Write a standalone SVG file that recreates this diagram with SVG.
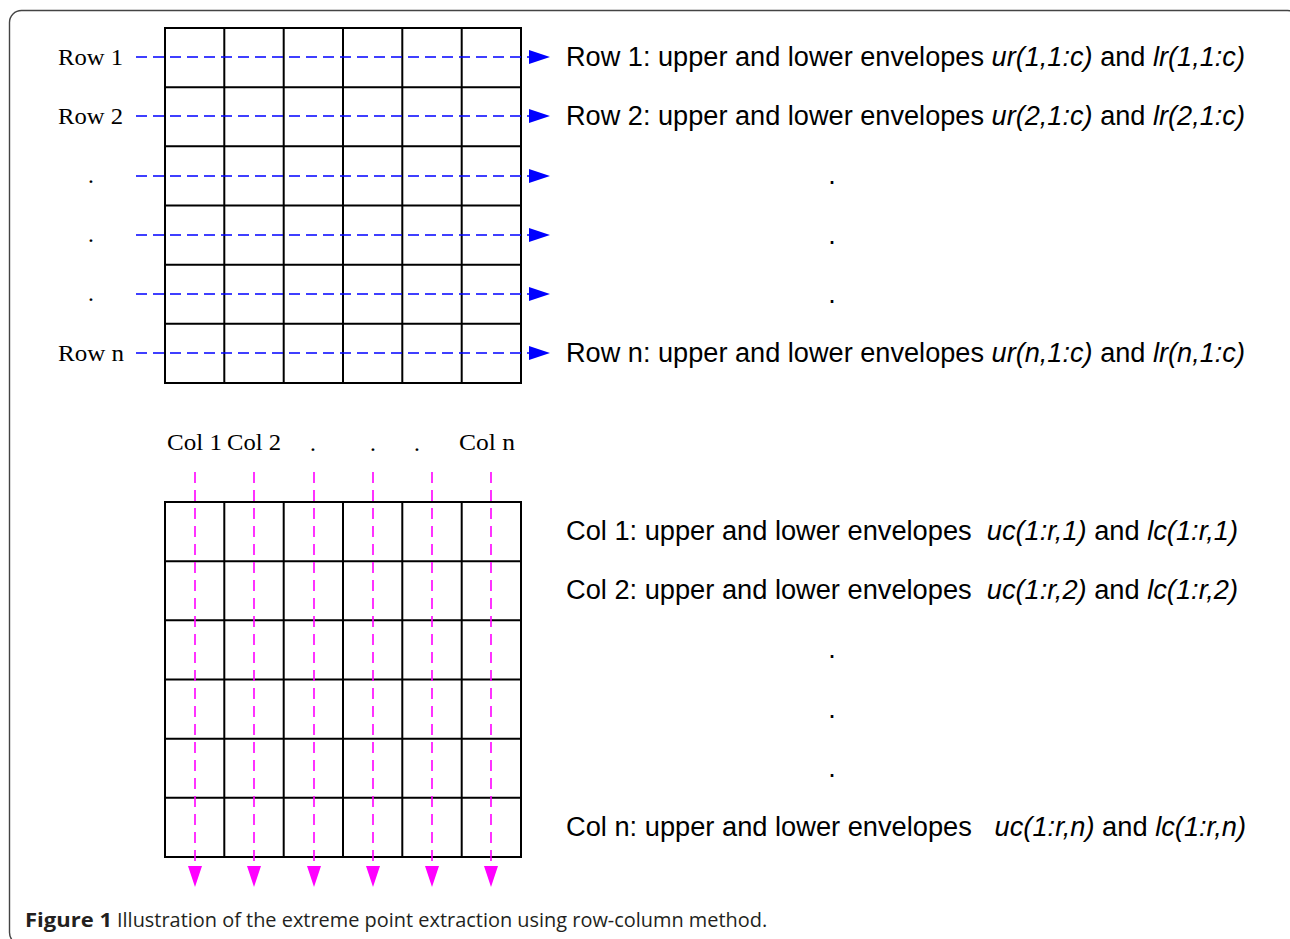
<svg xmlns="http://www.w3.org/2000/svg" width="1290" height="939" viewBox="0 0 1290 939">
<style>
.grid{fill:none;stroke:#000;stroke-width:2}
.tm{font-family:"Liberation Serif","Times New Roman",serif;font-size:23.5px;fill:#000}
.ar{font-family:"Liberation Sans",Arial,sans-serif;font-size:27px;fill:#000}
.it{font-style:italic}
.blue{stroke:#0000ff;stroke-width:1.6;stroke-dasharray:11 6;fill:none}
.mag{stroke:#ff00ff;stroke-width:1.6;stroke-dasharray:11 7;fill:none}
.cap{font-family:"Open Sans","Liberation Sans",sans-serif;font-size:20px;fill:#231f20}
</style>
<defs>
<marker id="ab" viewBox="0 0 21 14" refX="0" refY="7" markerWidth="21" markerHeight="14" markerUnits="userSpaceOnUse" orient="auto"><path d="M0,0 L21,7 L0,14 z" fill="#0000ff"/></marker>
<marker id="am" viewBox="0 0 21 14" refX="0" refY="7" markerWidth="21" markerHeight="14" markerUnits="userSpaceOnUse" orient="auto"><path d="M0,0 L21,7 L0,14 z" fill="#ff00ff"/></marker>
</defs>
<rect x="0" y="0" width="1290" height="939" fill="#fff"/>
<rect id="frame" x="9.5" y="10.5" width="1290" height="934" rx="12" fill="none" stroke="#444" stroke-width="1.4"/>

<g id="grid-rows">
<rect class="grid" x="165" y="28" width="356" height="355"/>
<path class="grid" d="M224.3,28V383M283.7,28V383M343,28V383M402.3,28V383M461.7,28V383M165,87.2H521M165,146.3H521M165,205.5H521M165,264.7H521M165,323.8H521"/>
</g>
<g id="grid-cols">
<rect class="grid" x="165" y="502" width="356" height="355"/>
<path class="grid" d="M224.3,502V857M283.7,502V857M343,502V857M402.3,502V857M461.7,502V857M165,561.2H521M165,620.3H521M165,679.5H521M165,738.7H521M165,797.8H521"/>
</g>

<g id="connectors">
<path class="blue" d="M136,57H529" marker-end="url(#ab)"/>
<path class="blue" d="M136,116H529" marker-end="url(#ab)"/>
<path class="blue" d="M136,176H529" marker-end="url(#ab)"/>
<path class="blue" d="M136,235H529" marker-end="url(#ab)"/>
<path class="blue" d="M136,294H529" marker-end="url(#ab)"/>
<path class="blue" d="M136,353H529" marker-end="url(#ab)"/>
<path class="mag" d="M195,472V866" marker-end="url(#am)"/>
<path class="mag" d="M254,472V866" marker-end="url(#am)"/>
<path class="mag" d="M314,472V866" marker-end="url(#am)"/>
<path class="mag" d="M373,472V866" marker-end="url(#am)"/>
<path class="mag" d="M432,472V866" marker-end="url(#am)"/>
<path class="mag" d="M491,472V866" marker-end="url(#am)"/>
</g>

<g id="row-labels">
<text class="tm" x="58" y="65" textLength="65" lengthAdjust="spacingAndGlyphs">Row 1</text>
<text class="tm" x="58" y="124" textLength="65" lengthAdjust="spacingAndGlyphs">Row 2</text>
<text class="tm" x="91" y="183" text-anchor="middle">.</text>
<text class="tm" x="91" y="242" text-anchor="middle">.</text>
<text class="tm" x="91" y="301" text-anchor="middle">.</text>
<text class="tm" x="58" y="361" textLength="66" lengthAdjust="spacingAndGlyphs">Row n</text>
</g>

<g id="col-labels">
<text class="tm" x="167" y="450" textLength="55" lengthAdjust="spacingAndGlyphs">Col 1</text>
<text class="tm" x="227" y="450" textLength="54" lengthAdjust="spacingAndGlyphs">Col 2</text>
<text class="tm" x="313" y="451" text-anchor="middle">.</text>
<text class="tm" x="373" y="451" text-anchor="middle">.</text>
<text class="tm" x="417" y="451" text-anchor="middle">.</text>
<text class="tm" x="459" y="450" textLength="56" lengthAdjust="spacingAndGlyphs">Col n</text>
</g>

<g id="row-results">
<text class="ar" x="566" y="66" textLength="679" lengthAdjust="spacingAndGlyphs">Row 1: upper and lower envelopes <tspan class="it">ur(1,1:c)</tspan> and <tspan class="it">lr(1,1:c)</tspan></text>
<text class="ar" x="566" y="125" textLength="679" lengthAdjust="spacingAndGlyphs">Row 2: upper and lower envelopes <tspan class="it">ur(2,1:c)</tspan> and <tspan class="it">lr(2,1:c)</tspan></text>
<text class="ar" x="832" y="184" text-anchor="middle">.</text>
<text class="ar" x="832" y="244" text-anchor="middle">.</text>
<text class="ar" x="832" y="303" text-anchor="middle">.</text>
<text class="ar" x="566" y="362" textLength="679" lengthAdjust="spacingAndGlyphs">Row n: upper and lower envelopes <tspan class="it">ur(n,1:c)</tspan> and <tspan class="it">lr(n,1:c)</tspan></text>
</g>

<g id="col-results">
<text class="ar" x="566" y="540" textLength="672" lengthAdjust="spacingAndGlyphs" xml:space="preserve">Col 1: upper and lower envelopes  <tspan class="it">uc(1:r,1)</tspan> and <tspan class="it">lc(1:r,1)</tspan></text>
<text class="ar" x="566" y="599" textLength="672" lengthAdjust="spacingAndGlyphs" xml:space="preserve">Col 2: upper and lower envelopes  <tspan class="it">uc(1:r,2)</tspan> and <tspan class="it">lc(1:r,2)</tspan></text>
<text class="ar" x="832" y="658" text-anchor="middle">.</text>
<text class="ar" x="832" y="718" text-anchor="middle">.</text>
<text class="ar" x="832" y="777" text-anchor="middle">.</text>
<text class="ar" x="566" y="836" textLength="680" lengthAdjust="spacingAndGlyphs" xml:space="preserve">Col n: upper and lower envelopes   <tspan class="it">uc(1:r,n)</tspan> and <tspan class="it">lc(1:r,n)</tspan></text>
</g>

<g id="caption">
<text class="cap" x="25" y="927" font-weight="bold" textLength="87" lengthAdjust="spacingAndGlyphs">Figure 1</text>
<text class="cap" x="117" y="927" textLength="645" lengthAdjust="spacingAndGlyphs">Illustration of the extreme point extraction using row-column method</text>
<text class="cap" x="762" y="927" fill="#888">.</text>
</g>
</svg>
